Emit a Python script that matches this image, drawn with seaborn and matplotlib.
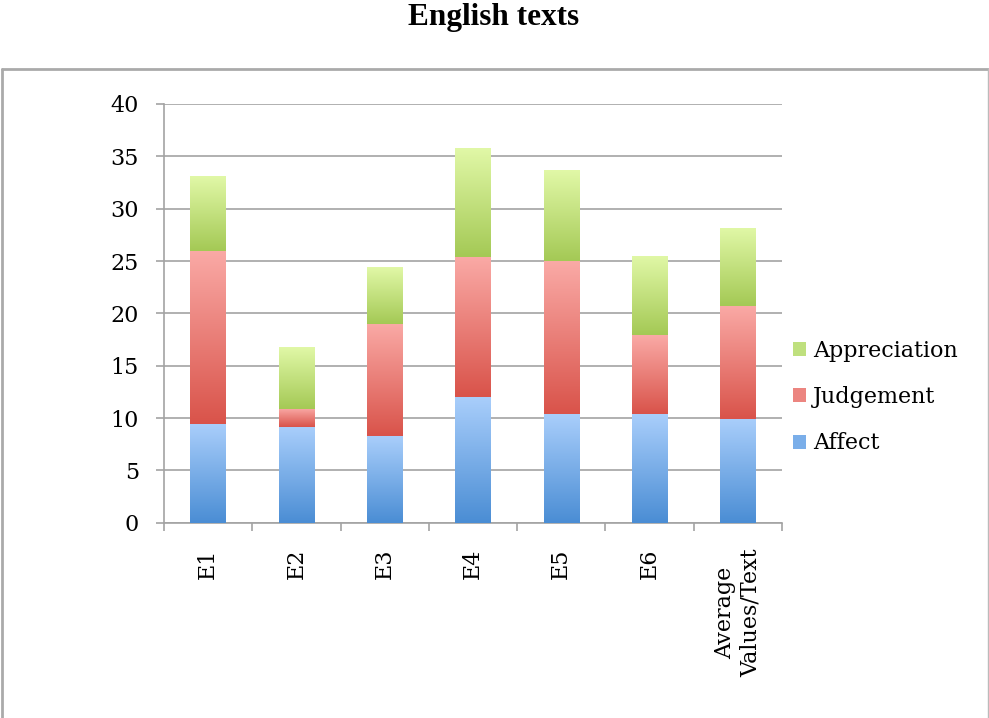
import numpy as np
import matplotlib
matplotlib.use("Agg")
import matplotlib.pyplot as plt
from matplotlib.colors import LinearSegmentedColormap
from matplotlib.lines import Line2D
from matplotlib.patches import Patch
import seaborn as sns

categories = ["E1", "E2", "E3", "E4", "E5", "E6", "Average\nValues/Text"]
affect = [9.4, 9.1, 8.3, 12.0, 10.4, 10.4, 9.9]
judgement = [16.6, 1.8, 10.7, 13.4, 14.6, 7.5, 10.8]
appreciation = [7.1, 5.9, 5.4, 10.4, 8.65, 7.6, 7.5]
yticks = [0, 5, 10, 15, 20, 25, 30, 35, 40]

# (name, values, (bottom colour, top colour, legend swatch colour))
series = [
    ("Affect", affect, ("#4a8dd4", "#a9cefb", "#7aaee9")),
    ("Judgement", judgement, ("#d9534a", "#faaaa6", "#ec8580")),
    ("Appreciation", appreciation, ("#a4c955", "#e1f8a7", "#bfe07e")),
]

sns.set_theme(style="white")
plt.rcParams["font.family"] = ["DejaVu Serif"]
plt.rcParams["text.color"] = "black"

fig = plt.figure(figsize=(9.89, 7.18), dpi=100)
ax = fig.add_axes([164 / 989, 195.3 / 718, 618 / 989, 418.7 / 718])

grid_color = "#a3a3a3"
bottom = np.zeros(len(categories))
handles = []
for name, vals, (dark, light, swatch) in series:
    vals = np.asarray(vals, dtype=float)
    n_before = len(ax.patches)
    sns.barplot(x=categories, y=vals, bottom=bottom, width=0.4,
                color=light, edgecolor="none", linewidth=0, ax=ax, zorder=3)
    cmap = LinearSegmentedColormap.from_list(name, [dark, light])
    grad = np.linspace(0, 1, 256).reshape(-1, 1)
    for patch in ax.patches[n_before:]:
        x0, y0 = patch.get_x(), patch.get_y()
        w, h = patch.get_width(), patch.get_height()
        im = ax.imshow(grad, extent=[x0, x0 + w, y0, y0 + h], origin="lower",
                       aspect="auto", cmap=cmap, zorder=4, interpolation="bilinear")
        im.set_clip_path(patch)
    handles.append(Patch(facecolor=swatch, edgecolor="none", label=name))
    bottom = bottom + vals

ax.set_xlim(-0.5, len(categories) - 0.5)
ax.set_ylim(0, 40)
ax.set_yticks(yticks)
ax.set_yticklabels([str(t) for t in yticks])
ax.yaxis.grid(True, color=grid_color, linewidth=1.2, zorder=0)
ax.set_axisbelow(True)

for side in ["top", "right"]:
    ax.spines[side].set_visible(False)
for side in ["left", "bottom"]:
    ax.spines[side].set_color(grid_color)
    ax.spines[side].set_linewidth(1.2)

ax.set_xticks(np.arange(len(categories)))
ax.set_xticklabels(categories, rotation=90, ha="center", va="top",
                   multialignment="center", fontsize=16, color="black")
ax.set_xticks(np.arange(len(categories) + 1) - 0.5, minor=True)
ax.tick_params(axis="x", which="major", length=0, pad=18.5)
ax.tick_params(axis="x", which="minor", length=6, width=1.2, color=grid_color,
               direction="out", bottom=True)
ax.tick_params(axis="y", which="major", length=6, width=1.2, color=grid_color,
               direction="out", left=True, pad=12, labelsize=16,
               labelcolor="black")
ax.set_xlabel("")
ax.set_ylabel("")

fig.legend(handles=handles[::-1], loc="center left",
           bbox_to_anchor=(793 / 989, 1 - 397 / 718), frameon=False,
           fontsize=16, handlelength=0.6, handleheight=0.6,
           handletextpad=0.3, labelspacing=1.1, borderpad=0, borderaxespad=0,
           labelcolor="black")

fig.text(494 / 989, 1 - 18 / 718, "English texts", ha="center", va="center",
         fontsize=22.5, fontweight="bold", color="black",
         family=["Liberation Serif"])

# outer frame around the chart area
frame_y = 1 - 69 / 718
fig.add_artist(Line2D([2 / 989, 988 / 989], [frame_y, frame_y],
                      transform=fig.transFigure, color="#aaaaaa", linewidth=2))
fig.add_artist(Line2D([2 / 989, 2 / 989], [0, frame_y],
                      transform=fig.transFigure, color="#aaaaaa", linewidth=2))
fig.add_artist(Line2D([987.5 / 989, 987.5 / 989], [0, frame_y],
                      transform=fig.transFigure, color="#bbbbbb", linewidth=1))

fig.savefig("out.png", dpi=100)
